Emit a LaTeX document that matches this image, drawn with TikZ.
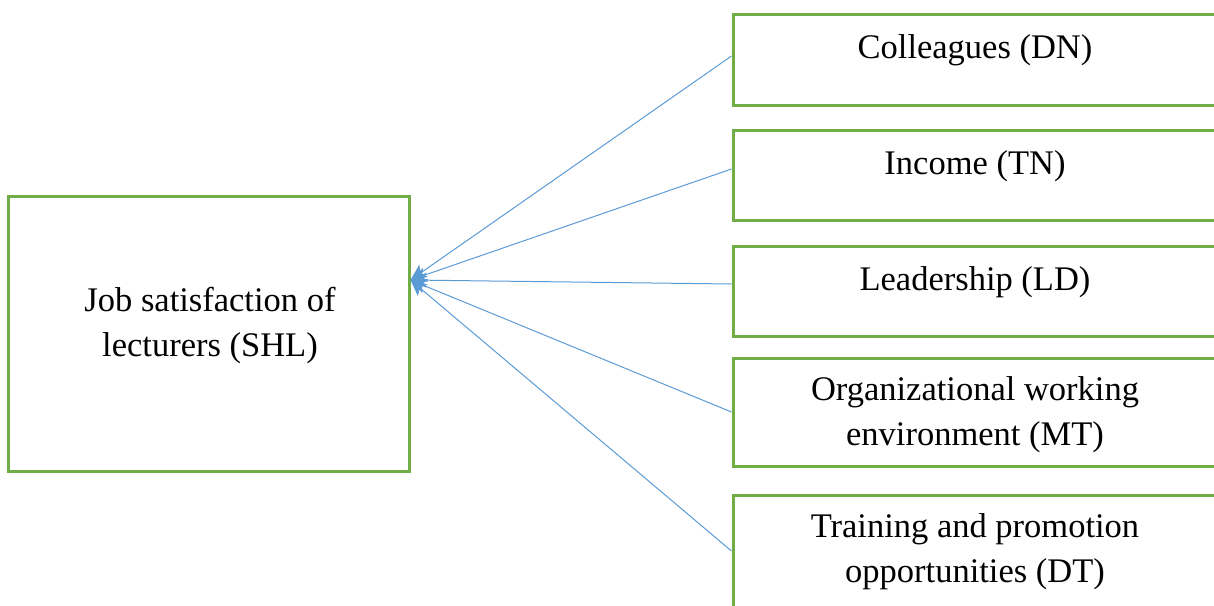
\documentclass[tikz,border=0pt]{standalone}
\usepackage{fontspec}
\setmainfont{Liberation Serif}
\usetikzlibrary{arrows.meta,calc}
\definecolor{boxgreen}{HTML}{70AD47}
\definecolor{linkblue}{HTML}{5B9BD5}
\begin{document}
\begin{tikzpicture}[x=1pt,y=-1pt,
  frame/.style={draw=boxgreen,line width=3pt,rectangle,inner sep=0pt},
  rbox/.style={frame,minimum width=484pt},
  lbl/.style={font=\fontsize{34.5}{45}\selectfont,align=center,inner sep=0pt,anchor=base},
  link/.style={draw=linkblue,line width=1pt,-{Stealth[length=16pt,width=15pt,inset=4pt]}}]
\useasboundingbox (0,0) rectangle (1214,605);
\clip (0,0) rectangle (1214,605);
% boxes
\node[frame,minimum width=401pt,minimum height=275pt] (shl) at (208.5,333.5) {};
\node[rbox,minimum height=91pt] (dn) at (975,59.5) {};
\node[rbox,minimum height=90pt] (tn) at (975,175) {};
\node[rbox,minimum height=90pt] (ld) at (975,291) {};
\node[rbox,minimum height=108pt] (mt) at (975,412) {};
\node[rbox,minimum height=120pt] (dt) at (975,555) {};
% texts
\node[lbl] (tshl) at (210,356) {Job satisfaction of\\lecturers (SHL)};
\node[lbl] (tdn) at (975,58) {Colleagues (DN)};
\node[lbl] (ttn) at (975,174) {Income (TN)};
\node[lbl] (tld) at (975,290) {Leadership (LD)};
\node[lbl] (tmt) at (975,445) {Organizational working\\environment (MT)};
\node[lbl] (tdt) at (975,582) {Training and promotion\\opportunities (DT)};
% connectors
\coordinate (tip) at ([yshift=53.5pt]shl.east);
\draw[link] ([yshift=3.5pt]dn.west) -- (tip);
\draw[link] ([yshift=6pt]tn.west) -- (tip);
\draw[link] ([yshift=7pt]ld.west) -- (tip);
\draw[link] (mt.west) -- (tip);
\draw[link] ([yshift=4pt]dt.west) -- (tip);
\end{tikzpicture}
\end{document}
